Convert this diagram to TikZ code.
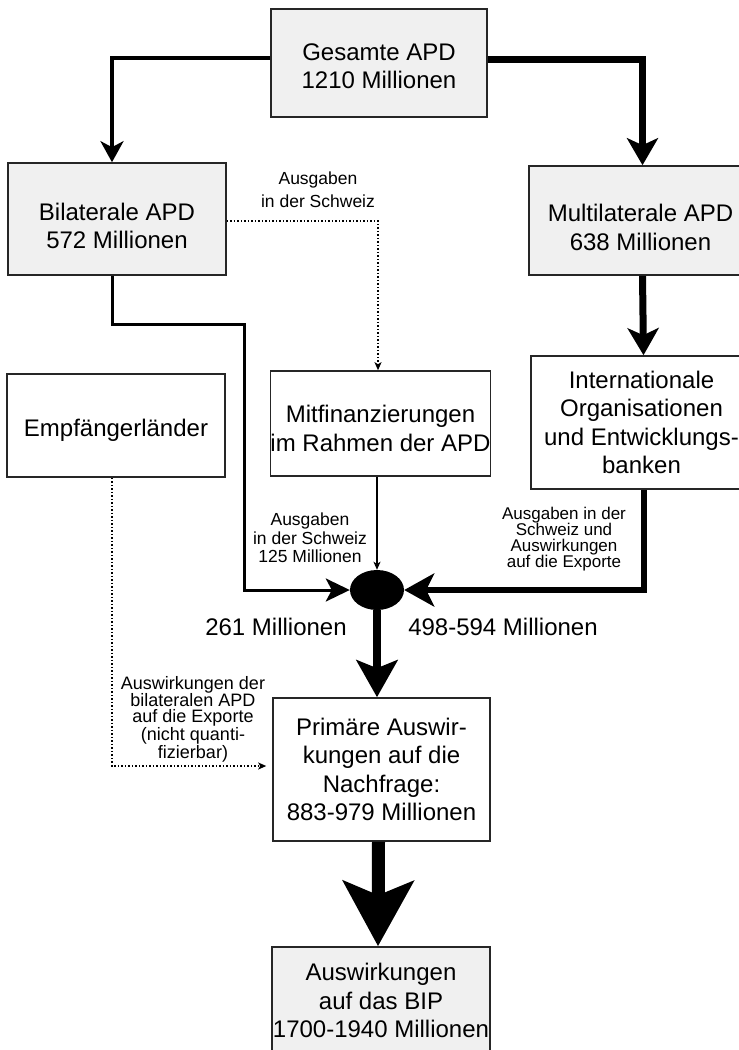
\documentclass[tikz,border=0pt]{standalone}
\usepackage{fontspec}
\setmainfont{Liberation Sans}
\usetikzlibrary{arrows.meta,shapes.geometric,calc}
\newcommand\fbig{\fontsize{24}{28.5}\selectfont}
\newcommand\tstrut[1]{\rule{0pt}{#1}}
\newcommand\dstrut[1]{\rule[-#1]{0pt}{#1}}
\begin{document}
\begin{tikzpicture}[x=1pt,y=-1pt,
  box/.style={draw=black!85, line width=1.6pt, align=center, font=\fbig, inner sep=0pt},
  gbox/.style={box, fill=gray!12},
  lbl/.style={align=center, inner sep=0pt},
  tipA/.style={-{Stealth[length=21pt,width=23pt,inset=6pt]}},
  tipB/.style={-{Stealth[length=27pt,width=31pt,inset=7pt]}},
  tipC/.style={-{Stealth[length=24pt,width=23pt,inset=6pt]}},
  tipD/.style={-{Stealth[length=30pt,width=33pt,inset=8pt]}},
  tipE/.style={-{Stealth[length=37pt,width=41pt,inset=8pt]}},
  tipF/.style={-{Stealth[length=65pt,width=70pt,inset=14pt]}},
  tipS/.style={-{Stealth[length=8pt,width=7pt,inset=2pt]}},
  dots/.style={line width=1.3pt, dash pattern=on 1.3pt off 2.2pt},
]
\useasboundingbox (0,0) rectangle (739,1050);
\clip (0,0) rectangle (739,1050);

% boxes
\node[gbox, minimum width=216pt, minimum height=108pt] (g) at (379,63) {\tstrut{23.5pt}Gesamte APD\\1210 Millionen};
\node[gbox, minimum width=218pt, minimum height=112pt] (bil) at (117,219) {\tstrut{31.5pt}Bilaterale APD\\572 Millionen};
\node[gbox, minimum width=223pt, minimum height=109pt] (mul) at (640.5,220.5) {\tstrut{31.5pt}Multilaterale APD\\638 Millionen};
\node[box, minimum width=218pt, minimum height=103pt] (emp) at (116,425.5) {\tstrut{27.5pt}Empfängerländer};
\node[box, minimum width=217pt, minimum height=105pt] (mit) at (380.5,423.5) {\tstrut{27.5pt}Mitfinanzierungen\\im Rahmen der APD};
\node[box, minimum width=221pt, minimum height=133pt] (int) at (641.5,422.5) {Internationale\\Organisationen\\und Entwicklungs-\\banken};
\node[box, minimum width=217pt, minimum height=143pt] (pri) at (381.5,769.5) {Primäre Auswir-\\kungen auf die\\Nachfrage:\\883-979 Millionen};
\node[gbox, minimum width=218pt, minimum height=115pt] (bip) at (381,1004.5) {Auswirkungen\\auf das BIP\\1700-1940 Millionen\dstrut{8pt}};
\node[ellipse, fill=black, minimum width=54pt, minimum height=40pt, inner sep=0pt] (hub) at (377,590) {};

% labels
\node[lbl, font=\fontsize{17.5}{23}\selectfont] (l1) at (318,190) {Ausgaben\\in der Schweiz};
\node[lbl, font=\fontsize{17.5}{18.5}\selectfont] (l2) at (310,538) {Ausgaben\\in der Schweiz\\125 Millionen};
\node[lbl, font=\fontsize{17}{16}\selectfont] (l3) at (564,539) {Ausgaben in der\\Schweiz und\\Auswirkungen\\auf die Exporte};
\node[lbl, font=\fbig] (l4) at (276,627) {261 Millionen};
\node[lbl, font=\fbig] (l5) at (503,627) {498-594 Millionen};
\node[lbl, font=\fontsize{18}{16}\selectfont] (l6) at (193,719) {Auswirkungen der\\bilateralen APD\\auf die Exporte\\(nicht quanti-\\fizierbar)};

% connectors
\coordinate (b1) at (244,324);
\draw[tipA, line width=4pt] ([yshift=5pt]g.west) -| ([xshift=-5pt]bil.north);
\draw[tipB, line width=6.5pt] ([yshift=3.5pt]g.east) -| ([xshift=2pt]mul.north);
\draw[tipB, line width=7pt] ([xshift=2pt]mul.south) -- ([xshift=2pt]int.north);
\draw[tipC, line width=3pt] ([xshift=-5pt]bil.south) |- (b1) |- (hub.west);
\draw[tipD, line width=6pt] ([xshift=2pt]int.south) |- (hub.east);
\draw[tipS, line width=1.3pt] (hub.north |- mit.south) -- (hub.north);
\draw[tipS, dots] ([yshift=-2pt]bil.east) -| ([xshift=-2.5pt]mit.north);
\draw[tipE, line width=8.5pt] (hub.south) -- (hub.south |- pri.north);
\draw[tipF, line width=13pt] ([xshift=-3pt]pri.south) -- ([xshift=-3pt]bip.north);
\draw[tipS, dots, shorten >=6pt] ([xshift=-4pt]emp.south) |- ([yshift=3.5pt]pri.west);
\end{tikzpicture}
\end{document}
